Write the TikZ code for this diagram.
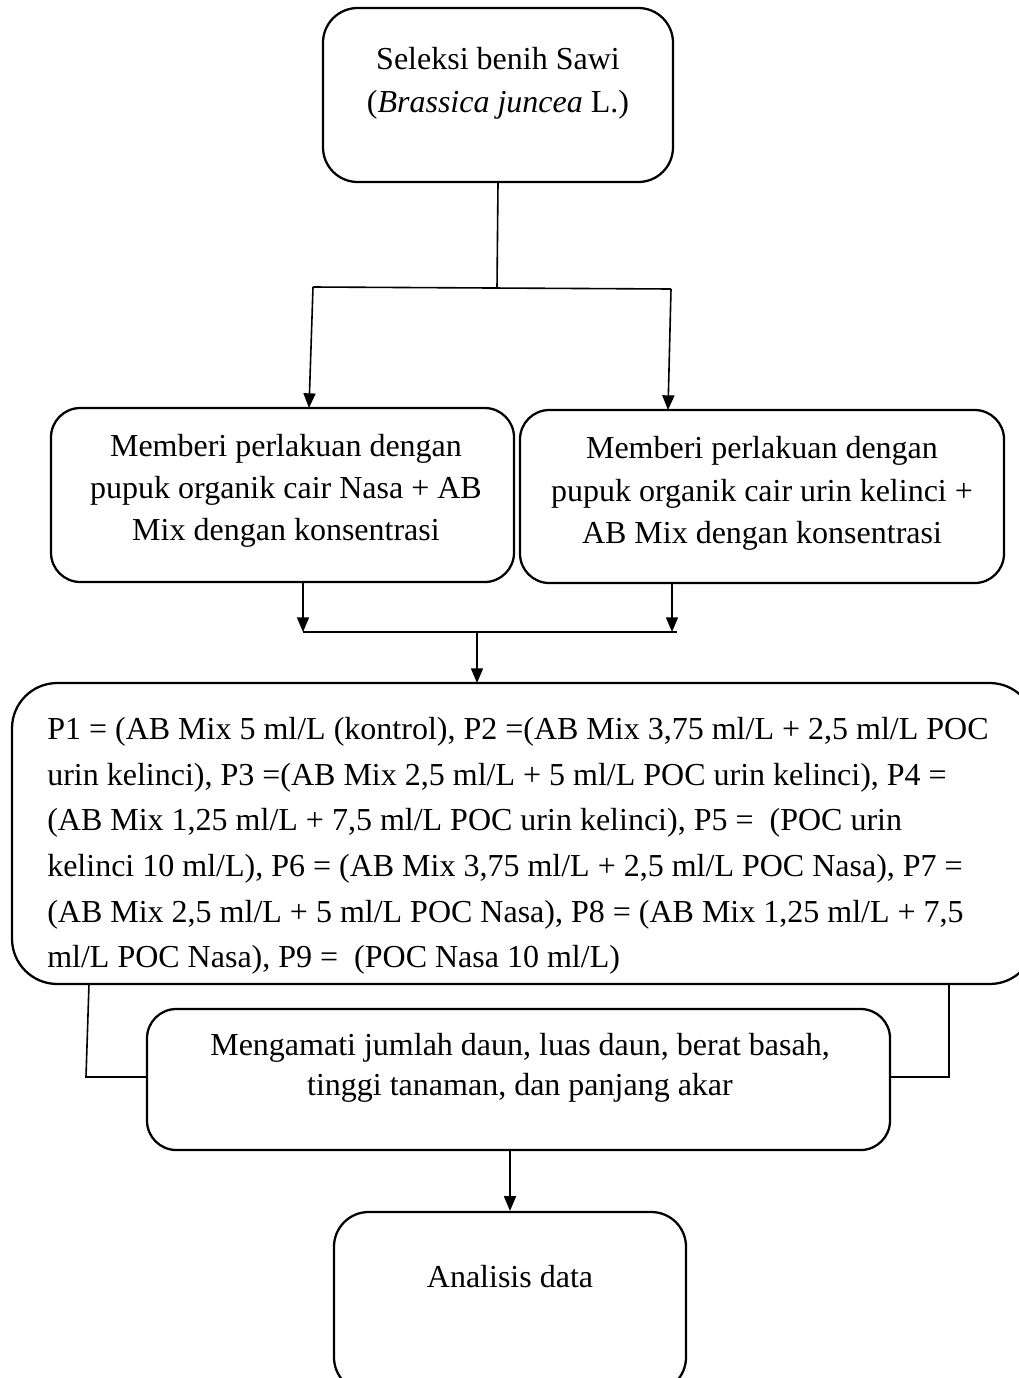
\documentclass[tikz,border=0pt]{standalone}
\usepackage{fontspec}
\setmainfont{Liberation Serif}
\usetikzlibrary{arrows.meta}
\begin{document}
\begin{tikzpicture}[x=0.75pt,y=-0.75pt,
  box/.style={draw, line width=1.7pt, rounded corners=#1, inner sep=0pt},
  box/.default=22pt,
  txt/.style={inner sep=0pt, align=center},
  con/.style={line width=1.2pt},
  arr/.style={con, -{Triangle[length=11pt,width=9pt]}}]
\useasboundingbox (0,0) rectangle (1019,1378);
\clip (0,0) rectangle (1019,1378);

% boxes
\node[box=26pt, minimum width=262.5pt, minimum height=130.5pt] (top) at (498,95) {};
\node[box, minimum width=347.25pt, minimum height=130.5pt] (left) at (282.5,495) {};
\node[box, minimum width=363pt, minimum height=129.75pt] (right) at (762,496.5) {};
\node[box=34pt, minimum width=767.25pt, minimum height=225.75pt] (big) at (523.5,833.5) {};
\node[box, minimum width=557.25pt, minimum height=105.75pt] (obs) at (518.5,1079.5) {};
\node[box=26pt, minimum width=264pt, minimum height=135pt] (ana) at (510,1302) {};

% texts
\node[txt, font=\fontsize{24}{32.25}\selectfont] (toptxt) at (498,83.5)
  {Seleksi benih Sawi\\(\textit{Brassica juncea} L.)};
\node[txt, font=\fontsize{24}{31.5}\selectfont] (lefttxt) at (286,491)
  {Memberi perlakuan dengan\\pupuk organik cair Nasa + AB\\Mix dengan konsentrasi};
\node[txt, font=\fontsize{24}{31.8}\selectfont] (righttxt) at (762,493.5)
  {Memberi perlakuan dengan\\pupuk organik cair urin kelinci +\\AB Mix dengan konsentrasi};
\node[txt, align=left, anchor=west, font=\fontsize{24}{34.2}\selectfont] (bigtxt) at (47,846)
  {P1 = (AB Mix 5 ml/L (kontrol), P2 =(AB Mix 3,75 ml/L + 2,5 ml/L POC\\
   urin kelinci), P3 =(AB Mix 2,5 ml/L + 5 ml/L POC urin kelinci), P4 =\\
   (AB Mix 1,25 ml/L + 7,5 ml/L POC urin kelinci), P5 =\ \ (POC urin\\
   kelinci 10 ml/L), P6 = (AB Mix 3,75 ml/L + 2,5 ml/L POC Nasa), P7 =\\
   (AB Mix 2,5 ml/L + 5 ml/L POC Nasa), P8 = (AB Mix 1,25 ml/L + 7,5\\
   ml/L POC Nasa), P9 =\ \ (POC Nasa 10 ml/L)};
\node[txt, font=\fontsize{24}{30}\selectfont] (obstxt) at (520,1068)
  {Mengamati jumlah daun, luas daun, berat basah,\\tinggi tanaman, dan panjang akar};
\node[txt, font=\fontsize{24}{30}\selectfont] (anatxt) at (510,1277) {Analisis data};

% junction coordinates
\coordinate (j0) at (497,288);
\coordinate (jl) at (313,287);
\coordinate (jr) at (671,289);
\coordinate (la) at (309,408);
\coordinate (ra) at (668,410);
\coordinate (ls) at (303,582);
\coordinate (rs) at (672,583);
\coordinate (ml) at (303,632);
\coordinate (mr) at (677,632);
\coordinate (mc) at (477,632);
\coordinate (bt) at (477,683);
\coordinate (bl) at (89,984);
\coordinate (br) at (949,984);
\coordinate (lo) at (86,1077);
\coordinate (ro) at (949,1077);

% connectors
\draw[con] (top.south) -- (j0);
\draw[con] (jl) -- (jr);
\draw[arr] (jl) -- (la);
\draw[arr] (jr) -- (ra);
\draw[arr] (ls) -- (ml);
\draw[arr] (rs) -- (ml -| rs);
\draw[con] (ml) -- (mr);
\draw[arr] (mc) -- (bt);
\draw[con] (bl) -- (lo) -- (lo -| obs.west);
\draw[con] (br) -- (ro) -- (ro -| obs.east);
\draw[arr] (obs.south -| ana.north) -- (ana.north);
\end{tikzpicture}
\end{document}
